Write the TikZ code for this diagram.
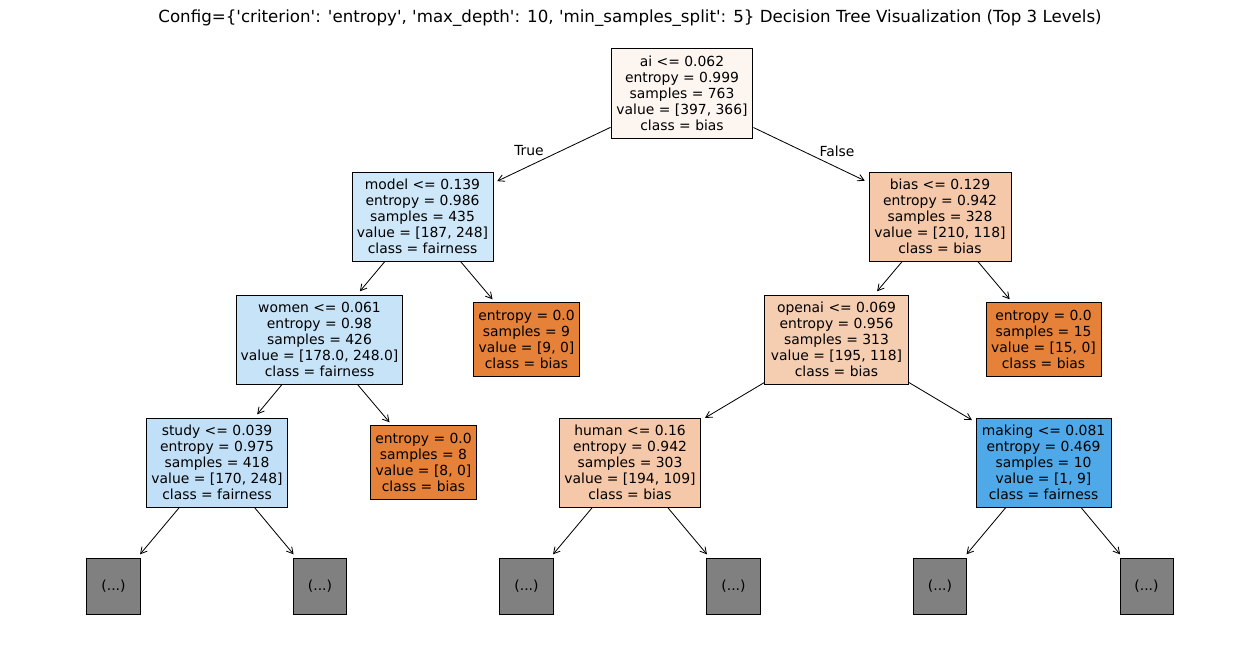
\documentclass[tikz,border=0pt]{standalone}
\usepackage{fontspec}
\setmainfont{DejaVu Sans}
\usetikzlibrary{arrows.meta}
\definecolor{cRoot}{RGB}{253,245,240}
\definecolor{cModel}{RGB}{206,231,249}
\definecolor{cBias}{RGB}{244,200,168}
\definecolor{cWomen}{RGB}{199,227,248}
\definecolor{cOpenai}{RGB}{245,205,177}
\definecolor{cStudy}{RGB}{193,224,247}
\definecolor{cHuman}{RGB}{244,200,168}
\definecolor{cMaking}{RGB}{79,168,232}
\definecolor{cLeaf}{RGB}{229,129,57}
\definecolor{cDots}{RGB}{128,128,128}
\newcommand{\sq}{\textquotesingle}
\begin{document}
\begin{tikzpicture}[x=0.72pt,y=-0.72pt,
  tbox/.style={draw=black,line width=0.7pt,inner sep=0pt,align=center,
    font=\fontsize{10}{11.6}\selectfont,minimum height=64.1pt},
  leafbox/.style={tbox,fill=cLeaf,minimum height=52.6pt,minimum width=77pt},
  dotbox/.style={tbox,fill=cDots,minimum width=38.2pt,minimum height=40.3pt},
  edge/.style={-{Straight Barb[length=4.5pt,width=5pt]},line width=0.6pt,shorten >=3pt},
  elabel/.style={font=\fontsize{10}{12}\selectfont}]
\useasboundingbox (0,0) rectangle (1260,658);
\node[font=\fontsize{12}{14}\selectfont] (title) at (630,18)
  {Config=\{\sq criterion\sq: \sq entropy\sq, \sq max\_depth\sq: 10, \sq min\_samples\_split\sq: 5\} Decision Tree Visualization (Top 3 Levels)};
\node[tbox,fill=cRoot,minimum width=102.2pt] (root) at (682,93.5)
  {ai <= 0.062\\entropy = 0.999\\samples = 763\\value = [397, 366]\\class = bias};
\node[tbox,fill=cModel,minimum width=101.5pt] (model) at (422.5,216.5)
  {model <= 0.139\\entropy = 0.986\\samples = 435\\value = [187, 248]\\class = fairness};
\node[tbox,fill=cBias,minimum width=102.2pt] (bias) at (940,216.5)
  {bias <= 0.129\\entropy = 0.942\\samples = 328\\value = [210, 118]\\class = bias};
\node[tbox,fill=cWomen,minimum width=120.2pt] (women) at (319.5,339.5)
  {women <= 0.061\\entropy = 0.98\\samples = 426\\value = [178.0, 248.0]\\class = fairness};
\node[leafbox] (leafA) at (526.5,339.5)
  {entropy = 0.0\\samples = 9\\value = [9, 0]\\class = bias};
\node[tbox,fill=cOpenai,minimum width=103pt] (openai) at (836.5,339.5)
  {openai <= 0.069\\entropy = 0.956\\samples = 313\\value = [195, 118]\\class = bias};
\node[leafbox,minimum width=82.8pt] (leafB) at (1043.5,339.5)
  {entropy = 0.0\\samples = 15\\value = [15, 0]\\class = bias};
\node[tbox,fill=cStudy,minimum width=102.2pt] (study) at (217,462.5)
  {study <= 0.039\\entropy = 0.975\\samples = 418\\value = [170, 248]\\class = fairness};
\node[leafbox] (leafC) at (423.5,462.5)
  {entropy = 0.0\\samples = 8\\value = [8, 0]\\class = bias};
\node[tbox,fill=cHuman,minimum width=102.2pt] (human) at (630,462.5)
  {human <= 0.16\\entropy = 0.942\\samples = 303\\value = [194, 109]\\class = bias};
\node[tbox,fill=cMaking,minimum width=97.2pt] (making) at (1043.5,462.5)
  {making <= 0.081\\entropy = 0.469\\samples = 10\\value = [1, 9]\\class = fairness};
\node[dotbox] (d1) at (113.5,586) {(...)};
\node[dotbox] (d2) at (320,586) {(...)};
\node[dotbox] (d3) at (526.5,586) {(...)};
\node[dotbox] (d4) at (733.5,586) {(...)};
\node[dotbox] (d5) at (940,586) {(...)};
\node[dotbox] (d6) at (1146.5,586) {(...)};
\draw[edge] (root) -- (model);
\draw[edge] (root) -- (bias);
\draw[edge] (model) -- (women);
\draw[edge] (model) -- (leafA);
\draw[edge] (bias) -- (openai);
\draw[edge] (bias) -- (leafB);
\draw[edge] (women) -- (study);
\draw[edge] (women) -- (leafC);
\draw[edge] (openai) -- (human);
\draw[edge] (openai) -- (making);
\draw[edge] (study) -- (d1);
\draw[edge] (study) -- (d2);
\draw[edge] (human) -- (d3);
\draw[edge] (human) -- (d4);
\draw[edge] (making) -- (d5);
\draw[edge] (making) -- (d6);
\node[elabel] (lt) at (529,151) {True};
\node[elabel] (lf) at (837,151) {False};
\end{tikzpicture}
\end{document}
